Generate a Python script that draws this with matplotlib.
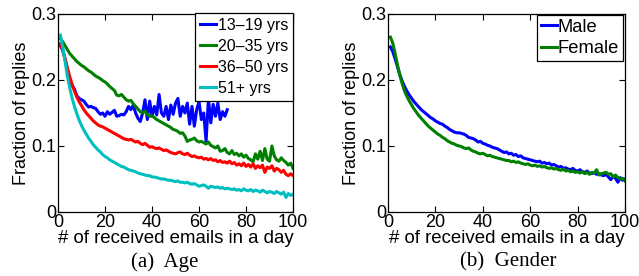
import matplotlib
matplotlib.use("Agg")
import matplotlib.pyplot as plt
import numpy as np

# ---------------- data ----------------
x100 = list(range(1, 101))
x72 = list(range(1, 73))

age_13_19 = [0.252, 0.245, 0.232, 0.215, 0.200, 0.192, 0.186, 0.176, 0.172, 0.170,
             0.168, 0.163, 0.159, 0.160, 0.158, 0.157, 0.152, 0.148, 0.150, 0.145,
             0.152, 0.148, 0.151, 0.154, 0.145, 0.146, 0.148, 0.147, 0.152, 0.160,
             0.155, 0.162, 0.150, 0.142, 0.137, 0.150, 0.170, 0.140, 0.168, 0.145,
             0.160, 0.147, 0.178, 0.150, 0.145, 0.160, 0.140, 0.162, 0.148, 0.165,
             0.172, 0.145, 0.160, 0.150, 0.165, 0.133, 0.160, 0.130, 0.155, 0.167,
             0.140, 0.150, 0.107, 0.172, 0.135, 0.163, 0.145, 0.165, 0.140, 0.152,
             0.145, 0.155]

age_20_35 = [0.262, 0.258, 0.252, 0.246, 0.240, 0.236, 0.232, 0.228, 0.225, 0.222,
             0.220, 0.217, 0.214, 0.212, 0.209, 0.206, 0.204, 0.202, 0.199, 0.197,
             0.194, 0.190, 0.187, 0.184, 0.177, 0.176, 0.178, 0.174, 0.170, 0.168,
             0.169, 0.164, 0.160, 0.156, 0.152, 0.150, 0.153, 0.148, 0.145, 0.146,
             0.143, 0.140, 0.138, 0.136, 0.134, 0.132, 0.130, 0.128, 0.125, 0.124,
             0.122, 0.119, 0.120, 0.115, 0.107, 0.109, 0.110, 0.112, 0.108, 0.106,
             0.107, 0.105, 0.103, 0.106, 0.101, 0.099, 0.097, 0.100, 0.092, 0.093,
             0.096, 0.090, 0.088, 0.093, 0.087, 0.089, 0.085, 0.088, 0.083, 0.086,
             0.081, 0.079, 0.076, 0.088, 0.080, 0.092, 0.078, 0.096, 0.080, 0.077,
             0.100, 0.085, 0.079, 0.077, 0.082, 0.078, 0.075, 0.071, 0.074, 0.066]

age_36_50 = [0.255, 0.245, 0.232, 0.218, 0.205, 0.193, 0.183, 0.174, 0.167, 0.161,
             0.155, 0.150, 0.146, 0.142, 0.138, 0.135, 0.132, 0.130, 0.129, 0.127,
             0.125, 0.123, 0.121, 0.119, 0.117, 0.115, 0.113, 0.111, 0.110, 0.109,
             0.110, 0.108, 0.106, 0.107, 0.104, 0.102, 0.104, 0.101, 0.098, 0.099,
             0.097, 0.096, 0.097, 0.095, 0.093, 0.094, 0.092, 0.090, 0.089, 0.088,
             0.090, 0.091, 0.088, 0.087, 0.089, 0.086, 0.084, 0.085, 0.083, 0.082,
             0.083, 0.080, 0.081, 0.079, 0.081, 0.078, 0.079, 0.076, 0.078, 0.075,
             0.076, 0.074, 0.077, 0.073, 0.075, 0.071, 0.073, 0.070, 0.074, 0.069,
             0.072, 0.068, 0.073, 0.066, 0.070, 0.067, 0.071, 0.060, 0.068, 0.066,
             0.070, 0.062, 0.066, 0.064, 0.060, 0.063, 0.057, 0.055, 0.058, 0.055]

age_51p = [0.268, 0.250, 0.228, 0.205, 0.188, 0.172, 0.160, 0.149, 0.139, 0.131,
           0.124, 0.118, 0.112, 0.107, 0.102, 0.098, 0.094, 0.091, 0.087, 0.084,
           0.082, 0.079, 0.077, 0.075, 0.073, 0.071, 0.069, 0.068, 0.066, 0.064,
           0.063, 0.062, 0.061, 0.059, 0.058, 0.057, 0.056, 0.055, 0.055, 0.053,
           0.053, 0.052, 0.051, 0.050, 0.050, 0.049, 0.048, 0.048, 0.047, 0.046,
           0.047, 0.045, 0.045, 0.044, 0.045, 0.043, 0.042, 0.043, 0.041, 0.039,
           0.040, 0.041, 0.039, 0.036, 0.039, 0.038, 0.037, 0.038, 0.036, 0.037,
           0.035, 0.036, 0.035, 0.034, 0.035, 0.033, 0.034, 0.032, 0.035, 0.033,
           0.032, 0.034, 0.031, 0.033, 0.032, 0.030, 0.033, 0.031, 0.029, 0.031,
           0.030, 0.028, 0.031, 0.029, 0.027, 0.030, 0.022, 0.028, 0.025, 0.027]

male = [0.250, 0.243, 0.232, 0.220, 0.208, 0.198, 0.190, 0.183, 0.177, 0.172,
        0.167, 0.163, 0.159, 0.155, 0.152, 0.149, 0.146, 0.143, 0.141, 0.138,
        0.136, 0.134, 0.133, 0.130, 0.128, 0.125, 0.123, 0.121, 0.120, 0.120,
        0.119, 0.118, 0.116, 0.113, 0.112, 0.111, 0.109, 0.106, 0.107, 0.104,
        0.103, 0.101, 0.100, 0.098, 0.097, 0.096, 0.094, 0.092, 0.090, 0.091,
        0.088, 0.089, 0.086, 0.087, 0.084, 0.085, 0.082, 0.081, 0.080, 0.079,
        0.078, 0.077, 0.076, 0.077, 0.074, 0.075, 0.073, 0.074, 0.071, 0.072,
        0.070, 0.068, 0.069, 0.066, 0.067, 0.065, 0.064, 0.066, 0.063, 0.062,
        0.064, 0.061, 0.060, 0.062, 0.059, 0.058, 0.060, 0.057, 0.058, 0.056,
        0.055, 0.057, 0.053, 0.049, 0.054, 0.051, 0.045, 0.052, 0.048, 0.050]

female = [0.265, 0.256, 0.240, 0.223, 0.207, 0.194, 0.183, 0.175, 0.168, 0.162,
          0.156, 0.151, 0.146, 0.142, 0.138, 0.134, 0.130, 0.127, 0.124, 0.121,
          0.118, 0.116, 0.113, 0.111, 0.108, 0.106, 0.104, 0.103, 0.101, 0.100,
          0.099, 0.097, 0.096, 0.097, 0.094, 0.092, 0.091, 0.089, 0.088, 0.089,
          0.087, 0.085, 0.086, 0.084, 0.083, 0.082, 0.081, 0.080, 0.079, 0.078,
          0.078, 0.076, 0.077, 0.075, 0.076, 0.074, 0.073, 0.072, 0.073, 0.071,
          0.070, 0.071, 0.069, 0.070, 0.068, 0.069, 0.067, 0.066, 0.067, 0.065,
          0.066, 0.064, 0.063, 0.065, 0.062, 0.063, 0.061, 0.062, 0.060, 0.061,
          0.059, 0.061, 0.058, 0.060, 0.057, 0.060, 0.059, 0.064, 0.056, 0.058,
          0.059, 0.060, 0.057, 0.058, 0.053, 0.056, 0.052, 0.050, 0.051, 0.047]

age_labels = ["13\u201319 yrs", "20\u201335 yrs", "36\u201350 yrs", "51+ yrs"]
gender_labels = ["Male", "Female"]
xticks = [0, 20, 40, 60, 80, 100]
yticks = [0, 0.1, 0.2, 0.3]
ytick_labels = ["0", "0.1", "0.2", "0.3"]

# ---------------- style ----------------
SANS = ["Liberation Sans", "DejaVu Sans"]
SERIF = ["Liberation Serif", "DejaVu Serif"]
plt.rcParams["font.family"] = SANS

fig = plt.figure(figsize=(6.39, 2.76), dpi=100)
ax1 = fig.add_axes([0.0908, 0.232, 0.3678, 0.7174])
ax2 = fig.add_axes([0.6072, 0.232, 0.3709, 0.7174])

LW = 2.2


def style(ax):
    ax.set_xlim(0, 100)
    ax.set_ylim(0, 0.3)
    ax.set_xticks(xticks)
    ax.set_xticklabels([str(t) for t in xticks])
    ax.set_yticks(yticks)
    ax.set_yticklabels(ytick_labels)
    ax.tick_params(direction="in", top=True, right=True, length=4, width=0.8,
                   labelsize=13, pad=1.5)
    for s in ax.spines.values():
        s.set_linewidth(0.9)
    ax.set_xlabel("# of received emails in a day", fontsize=13.4, labelpad=-1)
    ax.set_ylabel("Fraction of replies", fontsize=13, labelpad=1)


ax1.plot(x72, age_13_19, color="#0000ff", lw=LW, label=age_labels[0])
ax1.plot(x100, age_20_35, color="#008000", lw=LW, label=age_labels[1])
ax1.plot(x100, age_36_50, color="#ff0000", lw=LW, label=age_labels[2])
ax1.plot(x100, age_51p, color="#00bfbf", lw=LW, label=age_labels[3])
style(ax1)
leg1 = ax1.legend(loc="upper right", bbox_to_anchor=(1.0, 1.005), borderaxespad=0,
                  fontsize=11.5, handlelength=1.05, handletextpad=0.1,
                  labelspacing=0.38, borderpad=0.3, fancybox=False,
                  framealpha=1, edgecolor="black")
leg1.get_frame().set_linewidth(0.9)

ax2.plot(x100, male, color="#0000ff", lw=LW, label=gender_labels[0])
ax2.plot(x100, female, color="#008000", lw=LW, label=gender_labels[1])
style(ax2)
leg2 = ax2.legend(loc="upper right", bbox_to_anchor=(0.99, 0.995), borderaxespad=0,
                  fontsize=13.2, handlelength=0.85, handletextpad=0.05,
                  labelspacing=0.25, borderpad=0.2, fancybox=False,
                  framealpha=1, edgecolor="black")
leg2.get_frame().set_linewidth(0.9)

fig.text(0.258, 0.015, "(a)  Age", family=SERIF, fontsize=15, ha="center", va="bottom")
fig.text(0.795, 0.015, "(b)  Gender", family=SERIF, fontsize=15, ha="center", va="bottom")

fig.savefig("out.png", dpi=100)
